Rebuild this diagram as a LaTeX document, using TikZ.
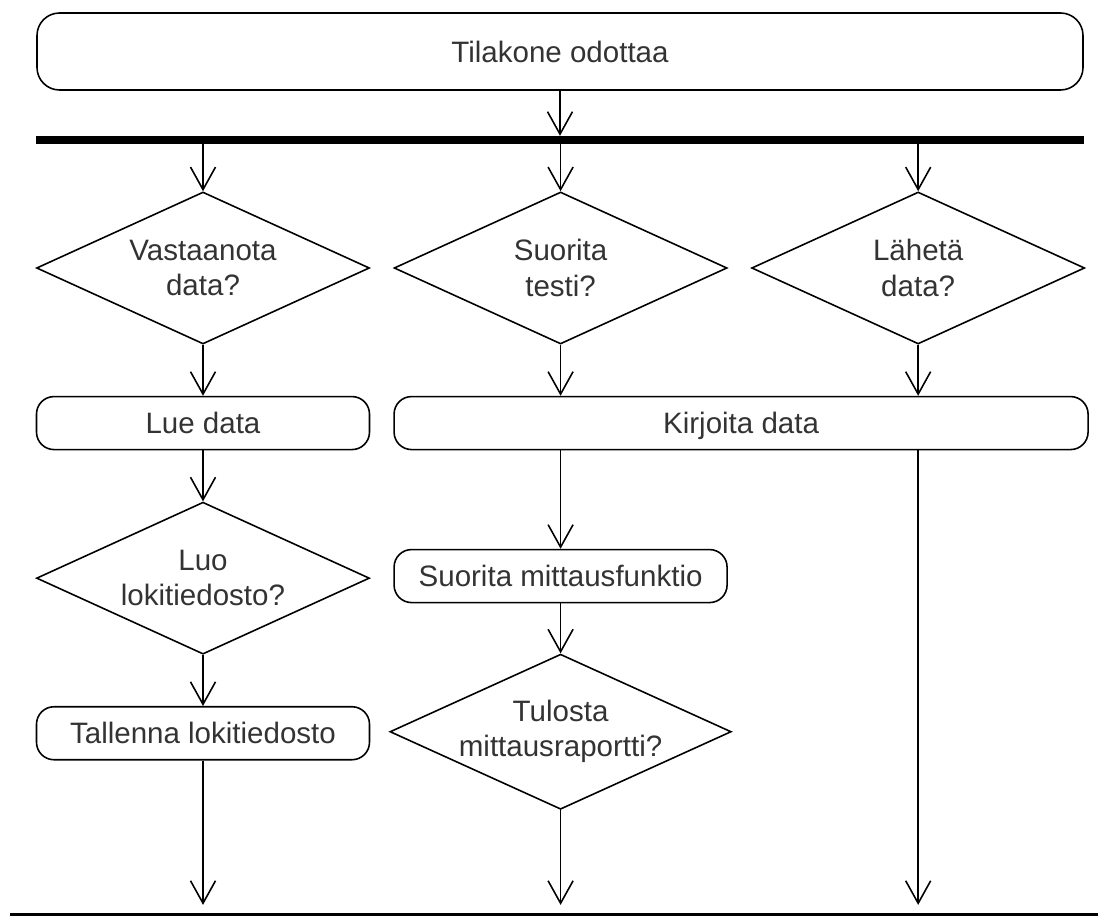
\documentclass[tikz,border=0pt]{standalone}
\usepackage{fontspec}
\setmainfont{Liberation Sans}
\usetikzlibrary{arrows.meta}
\usetikzlibrary{positioning}
\usetikzlibrary{shapes.geometric}
\definecolor{labelgray}{HTML}{333333}

\begin{document}
\begin{tikzpicture}[
		state/.style={rectangle,rounded corners=0.35cm,draw=black,line width=0.9pt,minimum height=1.06cm,minimum width=6.66cm,text height=12pt,text depth=0pt,text=labelgray,font=\fontsize{16.8}{20}\selectfont},
		decision/.style={diamond,draw=black,line width=0.9pt,aspect=2.2,minimum width=6.66cm,minimum height=3.04cm,inner sep=0pt,align=center,text=labelgray,font=\fontsize{16.8}{20}\selectfont},
		sync/.style={rectangle,fill=black,inner sep=0pt},
		flow/.style={line width=0.9pt,-{Straight Barb[length=4.5mm,width=5mm]}},
		node distance = 1.02cm and 0.46cm]
		
		\useasboundingbox (0,0) rectangle (21.96,-18.34);
		
		% node positions
		\node[state, rounded corners=0.45cm, minimum width=20.92cm, minimum height=1.54cm] (wait) at (11.2,-1.03) {Tilakone odottaa};
		\node[sync, minimum width=20.96cm, minimum height=0.16cm, below = 0.9cm of wait] (fork) {};
		\node[decision] (receive) at (4.06,-5.36) {Vastaanota\\data?};
		\node[decision, right = of receive] (test) {Suorita\\testi?};
		\node[decision, right = of test] (send) {Lähetä\\data?};
		\node[state, below = of receive] (read) {Lue data};
		\coordinate (corner) at (test.west |- test.south);
		\node[state, minimum width=13.88cm, below right = 1.02cm and 0cm of corner] (write) {Kirjoita data};
		\node[decision, below = of read] (createlog) {Luo\\lokitiedosto?};
		\node[state, below = of createlog] (savelog) {Tallenna lokitiedosto};
		\node[state, below = 4.08cm of test] (measure) {Suorita mittausfunktio};
		\node[decision, below = 1cm of measure] (report) {Tulosta\\mittausraportti?};
		\node[sync, minimum width=21.76cm, minimum height=0.07cm] (join) at (11.08,-18.29) {};
		
		% fork
		\draw[flow] (wait.south) -- (wait.south |- fork.north);
		\foreach \name in {receive,test,send}
		\draw[flow] (fork.south -| \name.north) -- (\name.north);
		
		% branches
		\foreach \name in {test,send}
		\draw[flow] (\name.south) -- (\name.south |- write.north);
		\draw[flow] (receive.south) -- (read.north);
		\draw[flow] (read.south) -- (createlog.north);
		\draw[flow] (createlog.south) -- (savelog.north);
		\draw[flow] (write.south -| measure.north) -- (measure.north);
		\draw[flow] (measure.south) -- (report.north);
		
		% join
		\foreach \name in {savelog,report}
		\draw[flow, shorten >=0.15cm] (\name.south) -- (\name.south |- join.north);
		\draw[flow, shorten >=0.15cm] (write.south -| send.south) -- (send.south |- join.north);
		
	\end{tikzpicture}
\end{document}
